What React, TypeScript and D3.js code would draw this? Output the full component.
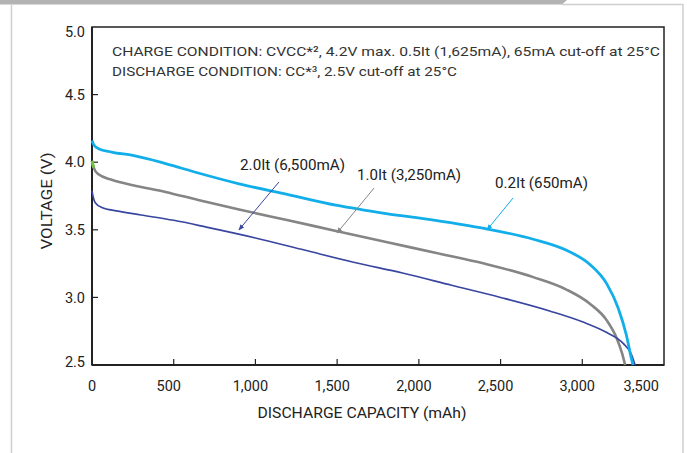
import React from 'react';
import * as d3 from 'd3';

// ---- data ----
const capacityTicks = [0, 500, 1000, 1500, 2000, 2500, 3000, 3500];
const voltageTicks = [2.5, 3.0, 3.5, 4.0, 4.5, 5.0];

// 0.2It (650mA)
const cap02 = [0, 10, 40, 120, 250, 450, 650, 900, 1200, 1500, 1800, 2100, 2400, 2700, 2900, 3050, 3150, 3220, 3270, 3300, 3310];
const v02 = [4.16, 4.13, 4.1, 4.075, 4.05, 3.99, 3.92, 3.84, 3.76, 3.68, 3.62, 3.57, 3.51, 3.43, 3.35, 3.24, 3.1, 2.92, 2.72, 2.55, 2.5];

// 1.0It (3,250mA)
const cap10 = [0, 10, 40, 120, 250, 450, 650, 900, 1200, 1500, 1800, 2100, 2400, 2700, 2900, 3050, 3150, 3210, 3245, 3262];
const v10 = [4.01, 3.96, 3.91, 3.87, 3.83, 3.78, 3.72, 3.65, 3.57, 3.49, 3.41, 3.33, 3.25, 3.15, 3.06, 2.95, 2.83, 2.7, 2.58, 2.5];

// 2.0It (6,500mA)
const cap20 = [0, 6, 20, 60, 150, 300, 500, 700, 1000, 1300, 1600, 1900, 2200, 2500, 2800, 3000, 3150, 3250, 3300, 3323];
const v20 = [3.79, 3.75, 3.7, 3.665, 3.64, 3.61, 3.57, 3.52, 3.44, 3.35, 3.26, 3.18, 3.09, 3.0, 2.9, 2.82, 2.74, 2.66, 2.58, 2.5];

const seriesLabels = ['2.0It (6,500mA)', '1.0It (3,250mA)', '0.2It (650mA)'];
// label anchor [mAh, V], arrow from [mAh, V] to [mAh, V]
const labelPos = [[906, 3.942], [1622, 3.868], [2466, 3.809]];
const arrowFrom = [[1144, 3.854], [1726, 3.809], [2576, 3.735]];
const arrowTo = [[899, 3.499], [1499, 3.476], [2417, 3.499]];

const titleLines = [
  'CHARGE CONDITION: CVCC*², 4.2V max. 0.5It (1,625mA), 65mA cut-off at 25°C',
  'DISCHARGE CONDITION: CC*³, 2.5V cut-off at 25°C',
];

const C_LIGHT = '#12aee9';
const C_GRAY = '#858585';
const C_DARK = '#3846a0';
const C_GREEN = '#74c044';

const FONT = "Roboto, 'Noto Sans', sans-serif";

export default function App() {
  const W = 687, H = 453;
  const x = d3.scaleLinear().domain([0, 3500]).range([92, 664]);
  const y = d3.scaleLinear().domain([2.5, 5]).range([365, 27]);
  const line = d3.line<[number, number]>().x(d => x(d[0])).y(d => y(d[1])).curve(d3.curveMonotoneX);
  const zip = (a: number[], b: number[]) => a.map((v, i) => [v, b[i]] as [number, number]);

  const s02 = zip(cap02, v02);
  const s10 = zip(cap10, v10);
  const s20 = zip(cap20, v20);
  const arrowColors = [C_DARK, C_GRAY, C_LIGHT];
  const labelLens = [105, 104, 93];

  return (
    <svg width={W} height={H} style={{ position: 'absolute', left: 0, top: 0, background: '#fff' }} fontFamily={FONT}>
      <defs>
        {arrowColors.map((c, i) => (
          <marker key={i} id={'ah' + i} viewBox="0 0 10 10" refX="9" refY="5" markerWidth="6" markerHeight="6" orient="auto">
            <path d="M0,1 L10,5 L0,9 z" fill={c} />
          </marker>
        ))}
      </defs>
      {/* page frame */}
      <path d="M0,0 H567 L562,4.5 H0 Z" fill="#b3b3b3" />
      <path d="M562,4.5 H683 V453" fill="none" stroke="#cfcfcf" strokeWidth={1.5} />
      <line x1={11.5} y1={4.5} x2={11.5} y2={453} stroke="#cfcfcf" strokeWidth={1.5} />

      {/* plot frame */}
      <rect x={x(0)} y={y(5)} width={x(3500) - x(0)} height={y(2.5) - y(5)} fill="none" stroke="#222" strokeWidth={1.5} />
      <line x1={x(0)} y1={y(5)} x2={x(0)} y2={y(2.5)} stroke="#222" strokeWidth={2} />
      <line x1={x(0)} y1={y(2.5)} x2={x(3500)} y2={y(2.5)} stroke="#222" strokeWidth={2} />

      {/* ticks */}
      {voltageTicks.slice(1, -1).map(v => (
        <line key={'yt' + v} x1={x(0)} x2={x(0) + 6} y1={y(v)} y2={y(v)} stroke="#222" strokeWidth={1.2} />
      ))}
      {capacityTicks.slice(1, -1).map(c => (
        <line key={'xt' + c} x1={x(c)} x2={x(c)} y1={y(2.5)} y2={y(2.5) - 6} stroke="#222" strokeWidth={1.2} />
      ))}
      {voltageTicks.map((v, i) => (
        <text key={'yl' + v} x={85} y={y(v) + (i === voltageTicks.length - 1 ? 4.5 : i === 0 ? -3 : 0)} dy="0.36em" textAnchor="end" fontSize={14.5} fill="#222">
          {v.toFixed(1)}
        </text>
      ))}
      {capacityTicks.map((c, i) => {
        const last = i === capacityTicks.length - 1;
        const xx = i === 0 ? x(c) : x(c) - 5;
        return (
          <text key={'xl' + c} x={xx} y={391} textAnchor={last ? 'end' : 'middle'} fontSize={14.5} fill="#222">
            {d3.format(',')(c)}
          </text>
        );
      })}

      {/* axis titles */}
      <text x={362} y={418} textAnchor="middle" fontSize={14.5} fill="#222" textLength={209} lengthAdjust="spacingAndGlyphs">
        DISCHARGE CAPACITY (mAh)
      </text>
      <text transform="translate(52,201) rotate(-90)" textAnchor="middle" fontSize={14.5} fill="#222" textLength={97} lengthAdjust="spacingAndGlyphs">
        VOLTAGE (V)
      </text>

      {/* condition text */}
      <text x={112} y={56} fontSize={13.5} fill="#333" textLength={548} lengthAdjust="spacingAndGlyphs">{titleLines[0]}</text>
      <text x={112} y={76} fontSize={13.5} fill="#333" textLength={345} lengthAdjust="spacingAndGlyphs">{titleLines[1]}</text>

      {/* curves */}
      <path d={line(s10) || ''} fill="none" stroke={C_GRAY} strokeWidth={2.6} />
      <path d={line(s10.slice(0, 2)) || ''} fill="none" stroke={C_GREEN} strokeWidth={3} />
      <path d={line(s20) || ''} fill="none" stroke={C_DARK} strokeWidth={1.6} />
      <path d={line(s02) || ''} fill="none" stroke={C_LIGHT} strokeWidth={2.8} />

      {/* annotations */}
      {seriesLabels.map((lab, i) => (
        <g key={lab}>
          <text x={x(labelPos[i][0])} y={y(labelPos[i][1])} fontSize={14.5} fill="#222" textLength={labelLens[i]} lengthAdjust="spacingAndGlyphs">{lab}</text>
          <line x1={x(arrowFrom[i][0])} y1={y(arrowFrom[i][1])} x2={x(arrowTo[i][0])} y2={y(arrowTo[i][1])} stroke={arrowColors[i]} strokeWidth={1} markerEnd={`url(#ah${i})`} />
        </g>
      ))}
    </svg>
  );
}
